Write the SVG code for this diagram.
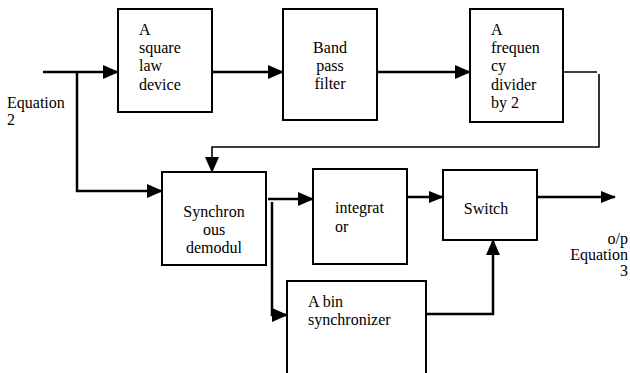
<svg xmlns="http://www.w3.org/2000/svg" width="630" height="373" viewBox="0 0 630 373">
<defs>
<style>
.box{fill:#fff;stroke:#000;stroke-width:2}
text{font-family:"Liberation Serif","Times New Roman",serif;font-size:16px;fill:#000}
.c{text-anchor:middle}
.e{text-anchor:end}
.w{fill:none;stroke:#000;stroke-width:2.5}
.f{fill:none;stroke:#000;stroke-width:1.6}
</style>
<marker id="ah" markerUnits="userSpaceOnUse" markerWidth="16" markerHeight="14" refX="15" refY="7" orient="auto">
<path d="M0,0 L16,7 L0,14 z" fill="#000"/>
</marker>
<marker id="as" markerUnits="userSpaceOnUse" markerWidth="15" markerHeight="12" refX="14" refY="6" orient="auto">
<path d="M0,0 L15,6 L0,12 z" fill="#000"/>
</marker>
</defs>
<rect width="630" height="373" fill="#fff"/>
<g id="connectors">
<path class="w" d="M43,72 H118" marker-end="url(#ah)"/>
<path class="w" d="M77,72 V191 H162" marker-end="url(#ah)"/>
<path class="w" d="M212,72 H283" marker-end="url(#ah)"/>
<path class="w" d="M377,72 H470" marker-end="url(#ah)"/>
<path class="f" d="M563,72 H597"/>
<path class="f" d="M599,74 V147 H212 V172" marker-end="url(#ah)"/>
<path class="w" d="M268,199 H313" marker-end="url(#ah)"/>
<path class="w" d="M272,202 V315 H287" marker-end="url(#ah)"/>
<path class="w" d="M407,197 H443" marker-end="url(#as)"/>
<path class="w" d="M537,197 H615" marker-end="url(#as)"/>
<path class="w" d="M426,314 H493 V240" marker-end="url(#ah)"/>
</g>
<g id="input-label">
<text x="7" y="108">Equation</text>
<text x="7" y="125">2</text>
</g>
<g id="square-law">
<rect class="box" x="118" y="9" width="94" height="103"/>
<text x="139" y="35">A</text>
<text x="139" y="53">square</text>
<text x="139" y="71">law</text>
<text x="139" y="90">device</text>
</g>
<g id="band-pass">
<rect class="box" x="283" y="9" width="94" height="111"/>
<text class="c" x="330" y="53">Band</text>
<text class="c" x="330" y="71">pass</text>
<text class="c" x="330" y="89">filter</text>
</g>
<g id="divider">
<rect class="box" x="470" y="9" width="93" height="113"/>
<text x="491" y="35">A</text>
<text x="491" y="53">frequen</text>
<text x="491" y="71">cy</text>
<text x="491" y="90">divider</text>
<text x="491" y="108">by 2</text>
</g>
<g id="demodulator">
<rect class="box" x="162" y="172" width="104" height="93"/>
<text class="c" x="214" y="217">Synchron</text>
<text class="c" x="214" y="235">ous</text>
<text class="c" x="214" y="253">demodul</text>
</g>
<g id="integrator">
<rect class="box" x="313" y="169" width="94" height="95"/>
<text x="335" y="213">integrat</text>
<text x="335" y="232">or</text>
</g>
<g id="switch">
<rect class="box" x="443" y="170" width="94" height="70"/>
<text class="c" x="486" y="214">Switch</text>
</g>
<g id="bin-sync">
<rect class="box" x="287" y="281" width="139" height="100"/>
<text x="308" y="307">A bin</text>
<text x="308" y="325">synchronizer</text>
</g>
<g id="output-label">
<text class="e" x="628" y="244">o/p</text>
<text class="e" x="628" y="260">Equation</text>
<text class="e" x="628" y="276">3</text>
</g>
</svg>
